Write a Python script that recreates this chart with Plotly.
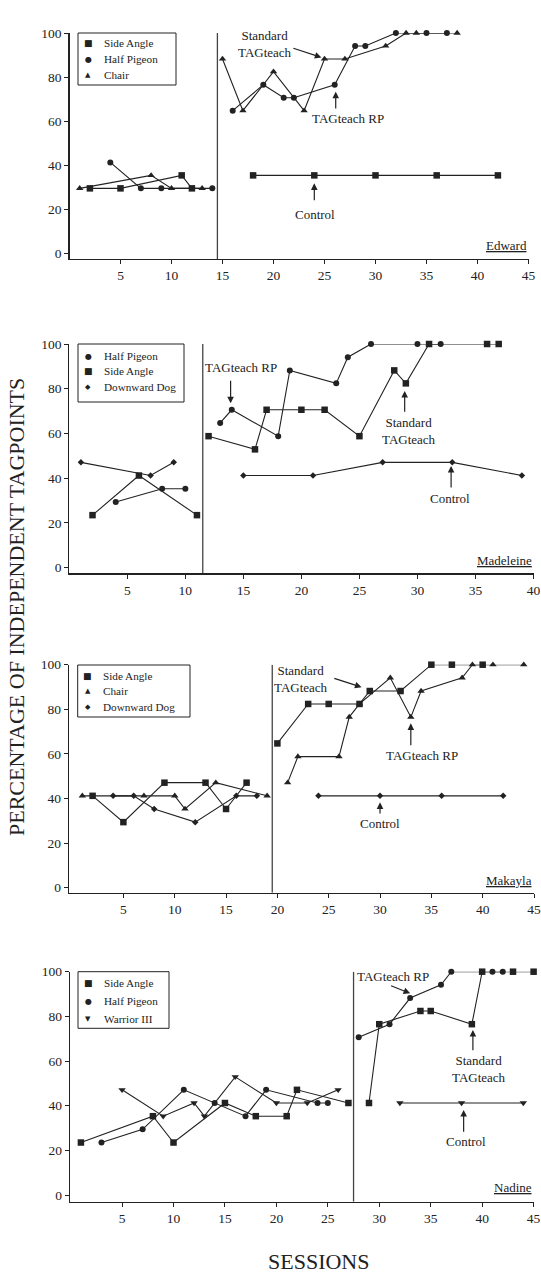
import plotly.graph_objects as go

W, H = 541, 1273
FONT = "Liberation Serif, Times New Roman, serif"
INK = "#222222"

# ---------------- DATA ----------------
# Panel 1: Edward
ed_side_x = [2, 5, 11, 12, None, 18, 24, 30, 36, 42]
ed_side_y = [29.4, 29.4, 35.3, 29.4, None, 35.3, 35.3, 35.3, 35.3, 35.3]
ed_pigeon_x = [4, 7, 9, 14, None, 16, 19, 21, 22, 26, 28, 29, 32, 35, 37]
ed_pigeon_y = [41.2, 29.4, 29.4, 29.4, None, 64.7, 76.5, 70.6, 70.6, 76.5, 94.1, 94.1, 100, 100, 100]
ed_chair_x = [1, 8, 10, 13, None, 15, 17, 20, 23, 25, 27, 31, 33, 34, 38]
ed_chair_y = [29.4, 35.3, 29.4, 29.4, None, 88.2, 64.7, 82.4, 64.7, 88.2, 88.2, 94.1, 100, 100, 100]

# Panel 2: Madeleine
mad_pigeon_x = [4, 8, 10, None, 13, 14, 18, 19, 23, 24, 26, 30, 32]
mad_pigeon_y = [29.4, 35.3, 35.3, None, 64.7, 70.6, 58.8, 88.2, 82.4, 94.1, 100, 100, 100]
mad_side_x = [2, 6, 11, None, 12, 16, 17, 20, 22, 25, 28, 29, 31, 36, 37]
mad_side_y = [23.5, 41.2, 23.5, None, 58.8, 52.9, 70.6, 70.6, 70.6, 58.8, 88.2, 82.4, 100, 100, 100]
mad_dog_x = [1, 7, 9, None, 15, 21, 27, 33, 39]
mad_dog_y = [47.1, 41.2, 47.1, None, 41.2, 41.2, 47.1, 47.1, 41.2]

# Panel 3: Makayla
mak_side_x = [2, 5, 9, 13, 15, 17, None, 20, 23, 25, 28, 29, 32, 35, 37, 40]
mak_side_y = [41.2, 29.4, 47.1, 47.1, 35.3, 47.1, None, 64.7, 82.4, 82.4, 82.4, 88.2, 88.2, 100, 100, 100]
mak_chair_x = [1, 7, 10, 11, 14, 19, None, 21, 22, 26, 27, 28, 31, 33, 34, 38, 39, 41, 44]
mak_chair_y = [41.2, 41.2, 41.2, 35.3, 47.1, 41.2, None, 47.1, 58.8, 58.8, 76.5, 82.4, 94.1, 76.5, 88.2, 94.1, 100, 100, 100]
mak_dog_x = [4, 6, 8, 12, 16, 18, None, 24, 30, 36, 42]
mak_dog_y = [41.2, 41.2, 35.3, 29.4, 41.2, 41.2, None, 41.2, 41.2, 41.2, 41.2]

# Panel 4: Nadine
nad_side_x = [1, 8, 10, 15, 18, 21, 22, 27, None, 29, 30, 34, 35, 39, 40, 43, 45]
nad_side_y = [23.5, 35.3, 23.5, 41.2, 35.3, 35.3, 47.1, 41.2, None, 41.2, 76.5, 82.4, 82.4, 76.5, 100, 100, 100]
nad_pigeon_x = [3, 7, 11, 14, 17, 19, 24, 25, None, 28, 31, 33, 36, 37, 41, 42]
nad_pigeon_y = [23.5, 29.4, 47.1, 41.2, 35.3, 47.1, 41.2, 41.2, None, 70.6, 76.5, 88.2, 94.1, 100, 100, 100]
nad_warrior_x = [5, 9, 12, 13, 16, 20, 23, 26, None, 32, 38, 44]
nad_warrior_y = [47.1, 35.3, 41.2, 35.3, 52.9, 41.2, 41.2, 47.1, None, 41.2, 41.2, 41.2]

participants = ["Edward", "Madeleine", "Makayla", "Nadine"]
phase_change = [14.5, 11.5, 19.5, 27.5]
y_ticks = [0, 20, 40, 60, 80, 100]

# ---------------- LAYOUT HELPERS ----------------
def dx(pl, pr):
    return [pl / W, pr / W]

def dy(pt, pb):
    return [1 - pb / H, 1 - pt / H]

panels = [
    dict(xd=dx(69.5, 528.5), yd=dy(33, 259), xr=[0, 45], yr=[-2.7, 100], xt=list(range(5, 46, 5))),
    dict(xd=dx(69.3, 533.5), yd=dy(344, 573.3), xr=[0, 40], yr=[-2.5, 100], xt=list(range(5, 41, 5))),
    dict(xd=dx(69, 534), yd=dy(664.7, 892.7), xr=[-0.3, 45], yr=[-2.24, 100], xt=list(range(5, 46, 5))),
    dict(xd=dx(70, 533.6), yd=dy(971.7, 1201.7), xr=[-0.06, 45], yr=[-3, 100], xt=list(range(5, 46, 5))),
]

SYM = {
    "Side Angle": dict(symbol="square", size=6.5, glyph="\u25A0", gs=9),
    "Half Pigeon": dict(symbol="circle", size=6, glyph="\u25CF", gs=8),
    "Chair": dict(symbol="triangle-up", size=6.5, glyph="\u25B2", gs=7),
    "Downward Dog": dict(symbol="diamond", size=5, glyph="\u25C6", gs=7),
    "Warrior III": dict(symbol="triangle-down", size=6.5, glyph="\u25BC", gs=7),
}

series = [
    [("Side Angle", ed_side_x, ed_side_y), ("Half Pigeon", ed_pigeon_x, ed_pigeon_y), ("Chair", ed_chair_x, ed_chair_y)],
    [("Half Pigeon", mad_pigeon_x, mad_pigeon_y), ("Side Angle", mad_side_x, mad_side_y), ("Downward Dog", mad_dog_x, mad_dog_y)],
    [("Side Angle", mak_side_x, mak_side_y), ("Chair", mak_chair_x, mak_chair_y), ("Downward Dog", mak_dog_x, mak_dog_y)],
    [("Side Angle", nad_side_x, nad_side_y), ("Half Pigeon", nad_pigeon_x, nad_pigeon_y), ("Warrior III", nad_warrior_x, nad_warrior_y)],
]

# legend boxes in pixels: left, right, top, bottom, row centres (pixel y)
legend_box = [
    (78, 176, 33, 85, [43.3, 59.3, 74.5]),
    (78, 184, 344, 402, [356, 371.5, 387]),
    (77.7, 190, 665, 717, [675.5, 691, 707]),
    (78, 169, 971.7, 1028.3, [983.3, 1001, 1019]),
]

fig = go.Figure()
layout = dict(
    template="none",
    width=W, height=H, margin=dict(l=0, r=0, t=0, b=0, autoexpand=False),
    paper_bgcolor="white", plot_bgcolor="white",
    font=dict(family=FONT, color=INK, size=13),
    showlegend=False,
)

shapes = []
annotations = []

for i, (p, ser) in enumerate(zip(panels, series)):
    n = i + 1
    xa = "x" if n == 1 else f"x{n}"
    ya = "y" if n == 1 else f"y{n}"
    layout[f"xaxis{'' if n == 1 else n}"] = dict(
        domain=p["xd"], range=p["xr"], anchor=ya, tickvals=p["xt"], automargin=False,
        ticks="outside", ticklen=4, tickwidth=1, tickcolor=INK, ticklabeloverflow="allow",
        showline=True, linecolor=INK, linewidth=1.2, showgrid=False, zeroline=False,
        tickfont=dict(size=13.5, family=FONT, color=INK), fixedrange=True,
    )
    layout[f"yaxis{'' if n == 1 else n}"] = dict(
        domain=p["yd"], range=p["yr"], anchor=xa, tickvals=y_ticks, automargin=False,
        ticks="outside", ticklen=4, tickwidth=1, tickcolor=INK, ticklabeloverflow="allow",
        showline=True, linecolor=INK, linewidth=1.2, showgrid=False, zeroline=False,
        tickfont=dict(size=13.5, family=FONT, color=INK), fixedrange=True,
    )
    for name, xs, ys in ser:
        s = SYM[name]
        fig.add_trace(go.Scatter(
            x=xs, y=ys, mode="lines+markers", xaxis=xa, yaxis=ya, name=name,
            line=dict(color=INK, width=1.1), showlegend=False, cliponaxis=False,
            marker=dict(symbol=s["symbol"], size=s["size"], color=INK), hoverinfo="skip",
        ))
    # phase change line
    shapes.append(dict(type="line", xref=xa, yref=ya, x0=phase_change[i], x1=phase_change[i],
                       y0=p["yr"][0], y1=100, line=dict(color="#444444", width=1.3)))
    # legend box
    l, r, t, b, rows = legend_box[i]
    shapes.append(dict(type="rect", xref="paper", yref="paper", x0=l / W, x1=r / W,
                       y0=1 - b / H, y1=1 - t / H, line=dict(color=INK, width=1),
                       fillcolor="white", layer="above"))
    for (name, _, _), ry in zip(ser, rows):
        s = SYM[name]
        annotations.append(dict(xref="paper", yref="paper", x=(l + 10) / W, y=1 - ry / H,
                                xanchor="center", yanchor="middle", text=s["glyph"], showarrow=False,
                                font=dict(size=s["gs"], family="DejaVu Sans", color=INK)))
        annotations.append(dict(xref="paper", yref="paper", x=(l + 23.5) / W, y=1 - ry / H,
                                xanchor="left", yanchor="middle", text=name, showarrow=False,
                                font=dict(size=11.2, family=FONT, color=INK)))

# ---------------- ANNOTATIONS ----------------
def txt(n, x, y, t, size=13, **kw):
    xa = "x" if n == 1 else f"x{n}"
    ya = "y" if n == 1 else f"y{n}"
    d = dict(xref=xa, yref=ya, x=x, y=y, text=t, showarrow=False,
             xanchor="center", yanchor="middle",
             font=dict(size=size, family=FONT, color=INK))
    d.update(kw)
    annotations.append(d)

def arrow(n, x0, y0, x1, y1):
    xa = "x" if n == 1 else f"x{n}"
    ya = "y" if n == 1 else f"y{n}"
    annotations.append(dict(xref=xa, yref=ya, axref=xa, ayref=ya, x=x1, y=y1, ax=x0, ay=y0,
                            text="", showarrow=True, arrowhead=2, arrowsize=1.1,
                            arrowwidth=1.2, arrowcolor=INK))

titles_y = [108, 107.2, 112, 110]
base_x = [6.8, 5.9, 7.8, 13.5]
ecc_x = [30.4, 25.4, 32.9, 36.9]
ecc_text = ["Error-Correction  Comparison", "Error-Correction Comparison",
            "Error-Correction Comparison", "Error-Correction Comparison"]
name_x = [45, 40, 45, 45]
for i in range(4):
    n = i + 1
    txt(n, base_x[i], titles_y[i], "Baseline", size=14.5)
    txt(n, ecc_x[i], titles_y[i], ecc_text[i], size=14.5)
    txt(n, name_x[i], 3.3, f"<u>{participants[i]}</u>", size=13, xanchor="right")

# Edward
txt(1, 19.2, 94.8, "Standard<br>TAGteach")
arrow(1, 21.8, 93.3, 24.7, 88.9)
txt(1, 27.3, 61, "TAGteach RP")
arrow(1, 26.1, 65, 26.1, 73.3)
txt(1, 24.1, 17.6, "Control")
arrow(1, 24.0, 23.3, 24.0, 31.7)
# Madeleine
txt(2, 14.8, 89.3, "TAGteach RP")
arrow(2, 13.9, 84.2, 13.9, 73.5)
txt(2, 29.3, 61.3, "Standard<br>TAGteach")
arrow(2, 28.9, 69, 28.9, 79)
txt(2, 32.8, 31, "Control")
arrow(2, 32.9, 35.2, 32.9, 45.5)
# Makayla
txt(3, 22.3, 93.5, "Standard<br>TAGteach")
arrow(3, 25.4, 94.1, 28.2, 89.9)
txt(3, 34.1, 59.3, "TAGteach RP")
arrow(3, 33.0, 63.2, 33.0, 73.7)
txt(3, 30.0, 28.6, "Control")
arrow(3, 30.0, 32.6, 30.0, 38.3)
# Nadine
txt(4, 31.3, 97.8, "TAGteach RP")
arrow(4, 31.0, 94, 33.0, 90.3)
txt(4, 39.7, 56.4, "Standard<br>TAGteach")
arrow(4, 39.1, 64.2, 39.1, 73.9)
txt(4, 38.4, 23.9, "Control")
arrow(4, 38.2, 27.6, 38.2, 38.1)

# global axis titles
annotations.append(dict(xref="paper", yref="paper", x=16 / W, y=1 - 607 / H,
                        xanchor="center", yanchor="middle",
                        text="PERCENTAGE OF INDEPENDENT TAGPOINTS", textangle=-90,
                        showarrow=False, font=dict(size=22, family=FONT, color=INK)))
annotations.append(dict(xref="paper", yref="paper", x=318 / W, y=1 - 1261 / H,
                        xanchor="center", yanchor="middle",
                        text="SESSIONS", showarrow=False,
                        font=dict(size=22, family=FONT, color=INK)))

layout["shapes"] = shapes
layout["annotations"] = annotations
fig.update_layout(**layout)

fig.write_html("out.html", config={"displayModeBar": False, "staticPlot": True},
               post_script="document.body.style.margin='0';")
